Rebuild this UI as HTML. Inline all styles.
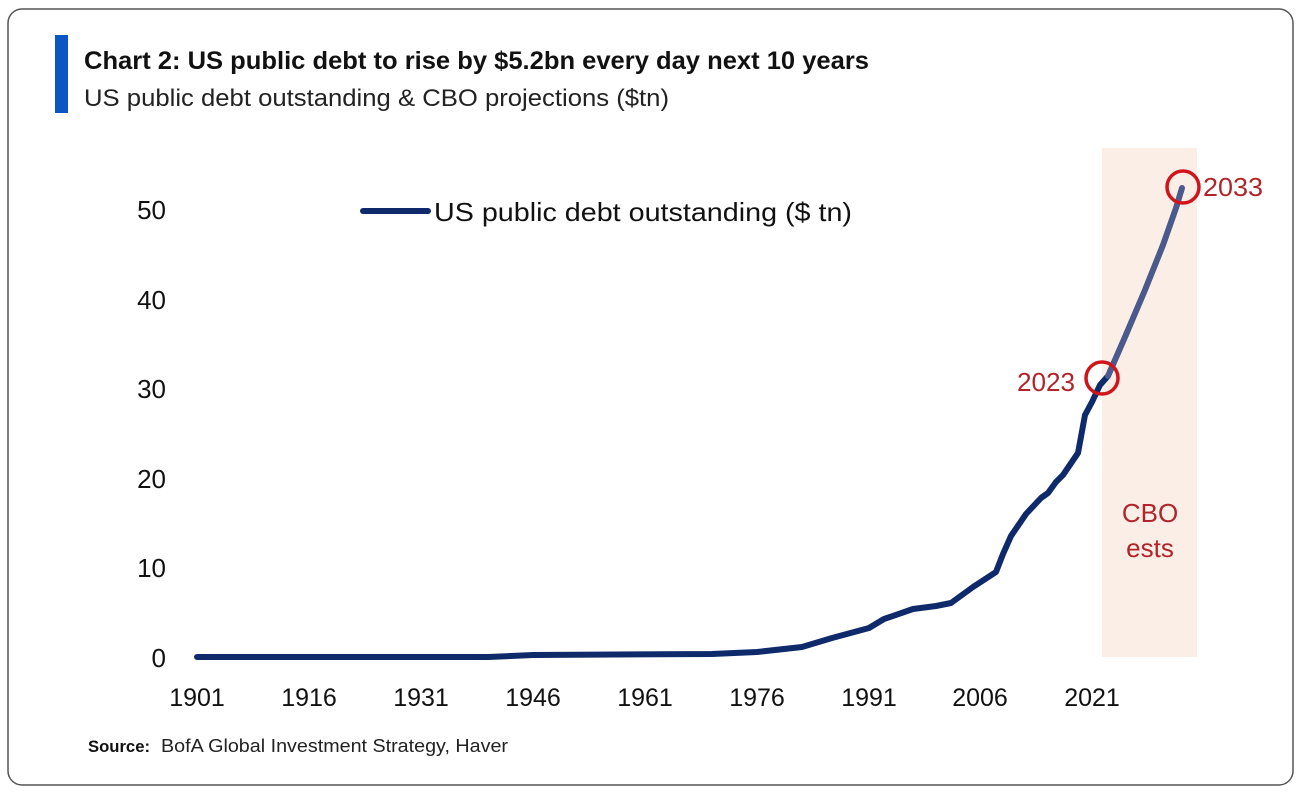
<!DOCTYPE html>
<html><head><meta charset="utf-8"><style>
body{margin:0;background:#fff;width:1300px;height:794px;overflow:hidden;font-family:"Liberation Sans",sans-serif}
</style></head><body>
<svg width="1300" height="794" xmlns="http://www.w3.org/2000/svg" font-family="Liberation Sans, DejaVu Sans, sans-serif">
<rect x="8" y="9" width="1285" height="776" rx="14" fill="#fff" stroke="#555" stroke-width="1.5"/>
<rect x="55" y="35" width="13" height="78" fill="#0a56c4"/>
<text x="84" y="69" font-size="25" font-weight="bold" fill="#111" textLength="785" lengthAdjust="spacingAndGlyphs">Chart 2: US public debt to rise by $5.2bn every day next 10 years</text>
<text x="84" y="106" font-size="24" fill="#222" textLength="585" lengthAdjust="spacingAndGlyphs">US public debt outstanding &amp; CBO projections ($tn)</text>
<rect x="1102" y="148" width="95" height="509" fill="#fbeee6"/>
<g font-size="26" fill="#111" text-anchor="end">
<text x="166" y="667">0</text><text x="166" y="577">10</text><text x="166" y="488">20</text>
<text x="166" y="398">30</text><text x="166" y="309">40</text><text x="166" y="219">50</text>
</g>
<g font-size="25" fill="#111" text-anchor="middle">
<text x="197" y="706">1901</text><text x="309" y="706">1916</text><text x="421" y="706">1931</text>
<text x="533" y="706">1946</text><text x="645" y="706">1961</text><text x="757" y="706">1976</text>
<text x="869" y="706">1991</text><text x="980" y="706">2006</text><text x="1092" y="706">2021</text>
</g>
<line x1="363" y1="211" x2="428" y2="211" stroke="#0f2a6b" stroke-width="6" stroke-linecap="round"/>
<text x="434" y="221" font-size="26" fill="#111" textLength="418" lengthAdjust="spacingAndGlyphs">US public debt outstanding ($ tn)</text>
<path d="M197,657 L488,657 L533,655 L712,654 L757,652 L802,647 L832,638 L869,628 L884,619 L913,609 L936,606 L951,603 L973,587 L996,572 L1003,554 L1011,536 L1026,514 L1041,498 L1048,493 L1056,482 L1063,475 L1078,453 L1085,415 L1092,402 L1100,385 L1108,376" fill="none" stroke="#0f2a6b" stroke-width="6" stroke-linejoin="round" stroke-linecap="round"/>
<path d="M1108,376 L1125,337 L1145,290 L1163,245 L1176,208 L1182,188" fill="none" stroke="#4a5a8c" stroke-width="6" stroke-linejoin="round" stroke-linecap="round"/>
<circle cx="1102" cy="378" r="16" fill="none" stroke="#d0141c" stroke-width="3.5"/>
<circle cx="1183" cy="187" r="16" fill="none" stroke="#d0141c" stroke-width="3.5"/>
<text x="1017" y="391" font-size="26" fill="#b0242a" textLength="58" lengthAdjust="spacingAndGlyphs">2023</text>
<text x="1203" y="196" font-size="26" fill="#b0242a" textLength="60" lengthAdjust="spacingAndGlyphs">2033</text>
<text x="1150" y="522" font-size="26" fill="#b0242a" text-anchor="middle">CBO</text>
<text x="1150" y="557" font-size="26" fill="#b0242a" text-anchor="middle">ests</text>
<text x="88" y="752" font-size="17" font-weight="bold" fill="#111" textLength="62" lengthAdjust="spacingAndGlyphs">Source:</text>
<text x="161" y="752" font-size="18" fill="#222" textLength="347" lengthAdjust="spacingAndGlyphs">BofA Global Investment Strategy, Haver</text>
</svg>
</body></html>
